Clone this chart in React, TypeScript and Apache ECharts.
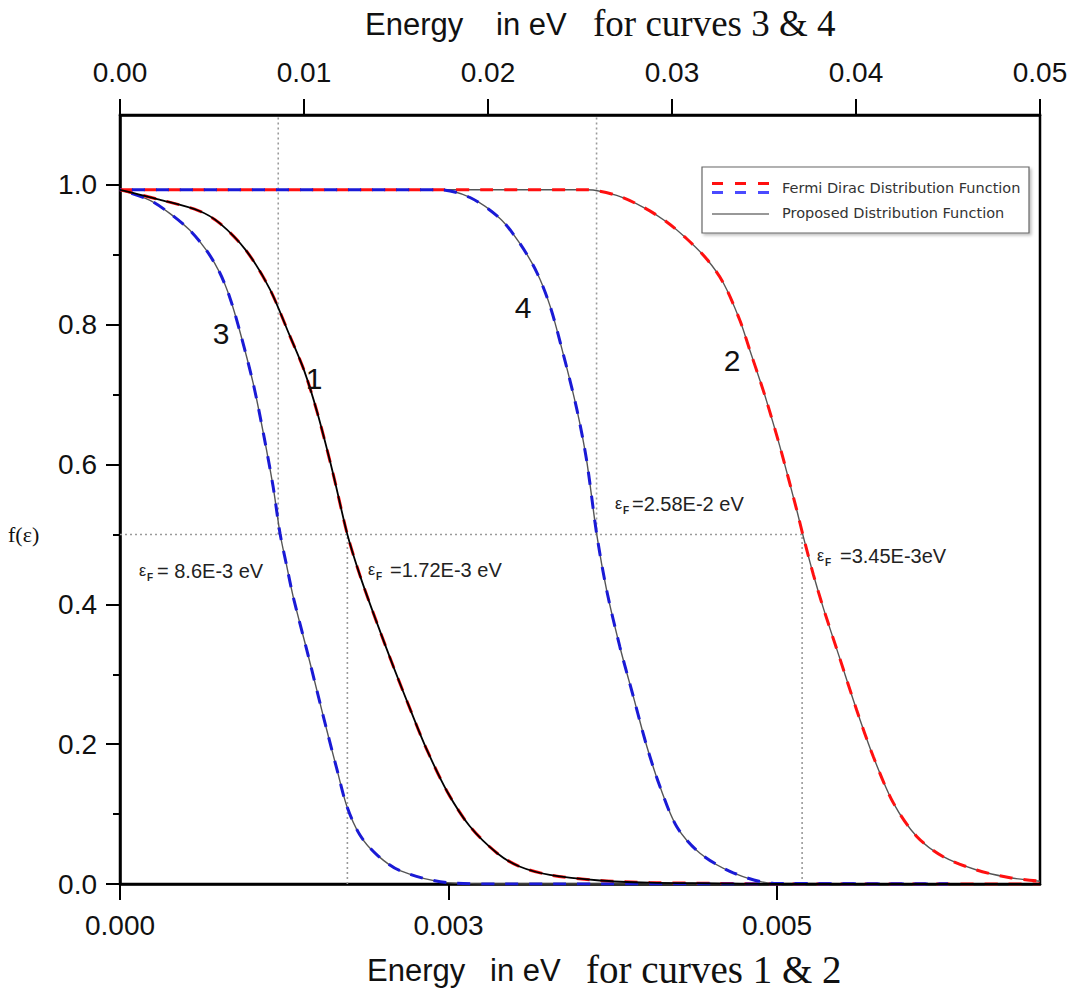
import React, { useEffect, useRef } from "react";
import * as echarts from "echarts";

// ---------- axis ticks ----------
const bottomTickValues = [0, 0.0025, 0.005];
const bottomTickLabels = ["0.000", "0.003", "0.005"];
const topTickValues = [0, 0.01, 0.02, 0.03, 0.04, 0.05];
const topTickLabels = ["0.00", "0.01", "0.02", "0.03", "0.04", "0.05"];
const yTickValues = [0, 0.2, 0.4, 0.6, 0.8, 1.0];
const yTickLabels = ["0.0", "0.2", "0.4", "0.6", "0.8", "1.0"];
const yMinorTickValues = [0.1, 0.3, 0.5, 0.7, 0.9];

// ---------- curve 1 (bottom axis) ----------
const curve1Energy = [0, 0.0003, 0.0006, 0.00076, 0.00096, 0.00114, 0.00129, 0.0014, 0.0015, 0.00162, 0.00173, 0.00183, 0.00195, 0.00208, 0.00221, 0.00233, 0.00249, 0.00266, 0.00287, 0.00304, 0.00327, 0.00365, 0.00403, 0.0045, 0.005, 0.006, 0.007];
const curve1Value = [0.993, 0.979, 0.963, 0.945, 0.906, 0.851, 0.785, 0.735, 0.675, 0.588, 0.5, 0.439, 0.376, 0.311, 0.249, 0.194, 0.132, 0.083, 0.044, 0.025, 0.013, 0.005, 0.002, 0.001, 0.0, 0.0, 0.0];

// ---------- curve 2 (bottom axis) ----------
const curve2Energy = [0, 0.003551, 0.003779, 0.003982, 0.00416, 0.004312, 0.004464, 0.00459, 0.004717, 0.004793, 0.00487, 0.004921, 0.005022, 0.005149, 0.005199, 0.005275, 0.005351, 0.005478, 0.005605, 0.005732, 0.005884, 0.006062, 0.006264, 0.006518, 0.006772, 0.007];
const curve2Value = [0.993, 0.993, 0.985, 0.968, 0.947, 0.923, 0.894, 0.86, 0.806, 0.763, 0.72, 0.69, 0.625, 0.535, 0.497, 0.443, 0.395, 0.322, 0.249, 0.182, 0.116, 0.068, 0.039, 0.02, 0.009, 0.004];

// ---------- curve 3 (top axis) ----------
const curve3Energy = [0, 0.00163, 0.00272, 0.0038, 0.00471, 0.00543, 0.00598, 0.00652, 0.00724, 0.00779, 0.00833, 0.0087, 0.00906, 0.00942, 0.01015, 0.01069, 0.01123, 0.01178, 0.01232, 0.01304, 0.01395, 0.01522, 0.01776, 0.02065, 0.045];
const curve3Value = [0.993, 0.978, 0.959, 0.935, 0.906, 0.874, 0.838, 0.79, 0.716, 0.645, 0.567, 0.501, 0.455, 0.41, 0.335, 0.278, 0.221, 0.165, 0.112, 0.07, 0.042, 0.019, 0.002, 0.0, 0.0];

// ---------- curve 4 (top axis) ----------
const curve4Energy = [0, 0.01739, 0.01902, 0.02065, 0.02174, 0.02265, 0.02337, 0.02409, 0.02482, 0.02536, 0.02591, 0.02645, 0.02717, 0.0279, 0.02863, 0.02935, 0.03026, 0.03152, 0.03333, 0.03551, 0.045];
const curve4Value = [0.993, 0.993, 0.982, 0.952, 0.916, 0.875, 0.827, 0.758, 0.68, 0.606, 0.5, 0.42, 0.339, 0.268, 0.197, 0.139, 0.082, 0.044, 0.016, 0.001, 0.0];

// ---------- Fermi levels (dotted guides) ----------
const fermiBottom = [0.00173, 0.00519]; // curves 1 & 2
const fermiTop = [0.0086, 0.0259]; // curves 3 & 4
const halfLevel = 0.5;

const zip = (xs: number[], ys: number[]) => xs.map((x, i) => [x, ys[i]]);
const labelFor = (values: number[], labels: string[]) => (v: number) => {
  const i = values.findIndex((t) => Math.abs(t - v) < 1e-9);
  return i >= 0 ? labels[i] : "";
};

const RED = "#ff1010";
const BLUE = "#1a1ad6";
const GRAY = "#555555";
const DOT = "#9a9a9a";
const SANS = "'Liberation Sans', Arial, sans-serif";
const SERIF = "'Liberation Serif', 'Times New Roman', serif";
const LEGEND_FONT = "'DejaVu Sans', sans-serif";

function dashed(name: string, data: number[][], color: string, xAxisIndex: number, offset: number) {
  return {
    name, type: "line", xAxisIndex, yAxisIndex: 0, data, symbol: "none",
    smooth: 0.3, z: 3, silent: true,
    lineStyle: { color, width: 3, type: [13, 11], dashOffset: offset },
  };
}
function solid(name: string, data: number[][], color: string, width: number, xAxisIndex: number, z: number) {
  return {
    name, type: "line", xAxisIndex, yAxisIndex: 0, data, symbol: "none",
    smooth: 0.3, z, silent: true,
    lineStyle: { color, width },
  };
}
function guide(data: number[][], xAxisIndex: number) {
  return {
    type: "line", xAxisIndex, yAxisIndex: 0, data, symbol: "none", z: 1, silent: true,
    lineStyle: { color: DOT, width: 1.6, type: [2, 3] },
  };
}

function fermiLabel(left: number, cy: number, rest: string, restLeft: number) {
  return {
    type: "group", z: 50, children: [
      { type: "text", x: left, y: cy - 1, style: { text: "ε", fontSize: 16, fontFamily: SANS, fill: "#222", align: "left", verticalAlign: "middle" } },
      { type: "text", x: left + 8, y: cy + 6, style: { text: "F", fontSize: 10, fontWeight: "bold", fontFamily: SANS, fill: "#222", align: "left", verticalAlign: "middle" } },
      { type: "text", x: restLeft, y: cy, style: { text: rest, fontSize: 20, fontFamily: SANS, fill: "#222", align: "left", verticalAlign: "middle" } },
    ],
  };
}

function curveNumber(text: string, cx: number, cy: number) {
  return { type: "text", z: 50, x: cx, y: cy, style: { text, fontSize: 30, fontFamily: SANS, fill: "#111", align: "center", verticalAlign: "middle" } };
}

export default function App() {
  const ref = useRef<HTMLDivElement>(null);
  useEffect(() => {
    const chart = echarts.init(ref.current!, null, { renderer: "svg" });
    const fd1 = zip(curve1Energy, curve1Value);
    const fd2 = zip(curve2Energy, curve2Value);
    const fd3 = zip(curve3Energy, curve3Value);
    const fd4 = zip(curve4Energy, curve4Value);

    const axisLineStyle = { color: "#000", width: 2.5 };
    const tickLineStyle = { color: "#000", width: 2 };
    const labelStyle = { fontSize: 28, fontFamily: SANS, color: "#111" };

    chart.setOption({
      animation: false,
      backgroundColor: "#fff",
      grid: { left: 120, right: 35, top: 115, bottom: 116, show: true, borderColor: "#000", borderWidth: 2.5, backgroundColor: "transparent" },
      xAxis: [
        {
          type: "value", position: "bottom", min: 0, max: 0.007,
          axisLine: { show: true, onZero: false, lineStyle: axisLineStyle },
          axisTick: { show: true, customValues: bottomTickValues, length: 16, lineStyle: tickLineStyle },
          axisLabel: { show: true, customValues: bottomTickValues, formatter: labelFor(bottomTickValues, bottomTickLabels), margin: 27, ...labelStyle },
          splitLine: { show: false },
        },
        {
          type: "value", position: "top", min: 0, max: 0.05,
          axisLine: { show: true, onZero: false, lineStyle: axisLineStyle },
          axisTick: { show: true, customValues: topTickValues, length: 16, lineStyle: tickLineStyle },
          axisLabel: { show: true, customValues: topTickValues, formatter: labelFor(topTickValues, topTickLabels), margin: 29, ...labelStyle },
          splitLine: { show: false },
        },
      ],
      yAxis: [
        {
          type: "value", position: "left", min: 0, max: 1.1,
          axisLine: { show: true, onZero: false, lineStyle: axisLineStyle },
          axisTick: { show: true, customValues: yTickValues, length: 14, lineStyle: tickLineStyle },
          axisLabel: { show: true, customValues: yTickValues, formatter: labelFor(yTickValues, yTickLabels), margin: 23, ...labelStyle },
          splitLine: { show: false },
        },
        {
          type: "value", position: "left", min: 0, max: 1.1,
          axisLine: { show: false, onZero: false },
          axisTick: { show: true, customValues: yMinorTickValues, length: 7, lineStyle: tickLineStyle },
          axisLabel: { show: false },
          splitLine: { show: false },
        },
      ],
      series: [
        guide([[0, halfLevel], [fermiBottom[1], halfLevel]], 0),
        guide([[fermiBottom[0], 0], [fermiBottom[0], halfLevel]], 0),
        guide([[fermiBottom[1], 0], [fermiBottom[1], halfLevel]], 0),
        guide([[fermiTop[0], halfLevel], [fermiTop[0], 1.1]], 1),
        guide([[fermiTop[1], halfLevel], [fermiTop[1], 1.1]], 1),
        solid("Proposed 2", fd2, GRAY, 1.4, 0, 2),
        solid("Proposed 3", fd3, GRAY, 1.4, 1, 2),
        solid("Proposed 4", fd4, GRAY, 1.4, 1, 2),
        dashed("Fermi Dirac 1", fd1, RED, 0, 0),
        dashed("Fermi Dirac 2", fd2, RED, 0, 0),
        dashed("Fermi Dirac 3", fd3, BLUE, 1, 12),
        dashed("Fermi Dirac 4", fd4, BLUE, 1, 12),
        solid("Proposed 1", fd1, "#000", 1.8, 0, 4),
      ],
      graphic: [
        // top title
        { type: "text", z: 50, x: 365, y: 24, style: { text: "Energy", fontSize: 31, fontFamily: SANS, fill: "#111", align: "left", verticalAlign: "middle" } },
        { type: "text", z: 50, x: 496, y: 24, style: { text: "in eV", fontSize: 31, fontFamily: SANS, fill: "#111", align: "left", verticalAlign: "middle" } },
        { type: "text", z: 50, x: 593, y: 23, style: { text: "for curves 3 & 4", fontSize: 37, fontFamily: SERIF, fill: "#111", align: "left", verticalAlign: "middle" } },
        // bottom title
        { type: "text", z: 50, x: 367, y: 970, style: { text: "Energy", fontSize: 31, fontFamily: SANS, fill: "#111", align: "left", verticalAlign: "middle" } },
        { type: "text", z: 50, x: 490, y: 970, style: { text: "in eV", fontSize: 31, fontFamily: SANS, fill: "#111", align: "left", verticalAlign: "middle" } },
        { type: "text", z: 50, x: 586, y: 969, style: { text: "for curves 1 & 2", fontSize: 39, fontFamily: SERIF, fill: "#111", align: "left", verticalAlign: "middle" } },
        // y label
        { type: "text", z: 50, x: 8, y: 534, style: { text: "f(ε)", fontSize: 22, fontFamily: SERIF, fill: "#111", align: "left", verticalAlign: "middle" } },
        // curve numbers
        curveNumber("3", 221, 333),
        curveNumber("1", 314, 378),
        curveNumber("4", 523, 307),
        curveNumber("2", 732, 360),
        // Fermi level labels
        fermiLabel(139, 571, "= 8.6E-3 eV", 157),
        fermiLabel(368, 570, "=1.72E-3 eV", 390),
        fermiLabel(615, 504, "=2.58E-2 eV", 632),
        fermiLabel(817, 556, "=3.45E-3eV", 840),
        // legend
        {
          type: "group", z: 60, children: [
            { type: "rect", shape: { x: 702, y: 167, width: 327, height: 66 }, style: { fill: "#fff", stroke: "#666", lineWidth: 1.2, shadowBlur: 3, shadowOffsetX: 2, shadowOffsetY: 2, shadowColor: "rgba(0,0,0,0.25)" } },
            { type: "line", shape: { x1: 712, y1: 183.5, x2: 769, y2: 183.5 }, style: { stroke: RED, lineWidth: 3, lineDash: [11, 12] } },
            { type: "line", shape: { x1: 712, y1: 192.5, x2: 769, y2: 192.5 }, style: { stroke: "#4a4aff", lineWidth: 3, lineDash: [11, 12] } },
            { type: "line", shape: { x1: 712, y1: 214, x2: 769, y2: 214 }, style: { stroke: "#333", lineWidth: 1.2 } },
            { type: "text", x: 782, y: 188, style: { text: "Fermi Dirac Distribution Function", fontSize: 14.5, fontFamily: LEGEND_FONT, fill: "#333", align: "left", verticalAlign: "middle" } },
            { type: "text", x: 782, y: 213, style: { text: "Proposed Distribution Function", fontSize: 14.5, fontFamily: LEGEND_FONT, fill: "#333", align: "left", verticalAlign: "middle" } },
          ],
        },
      ],
    });
    return () => chart.dispose();
  }, []);
  return <div ref={ref} style={{ position: "absolute", left: 0, top: 0, width: 1075, height: 1000, background: "#fff" }} />;
}
